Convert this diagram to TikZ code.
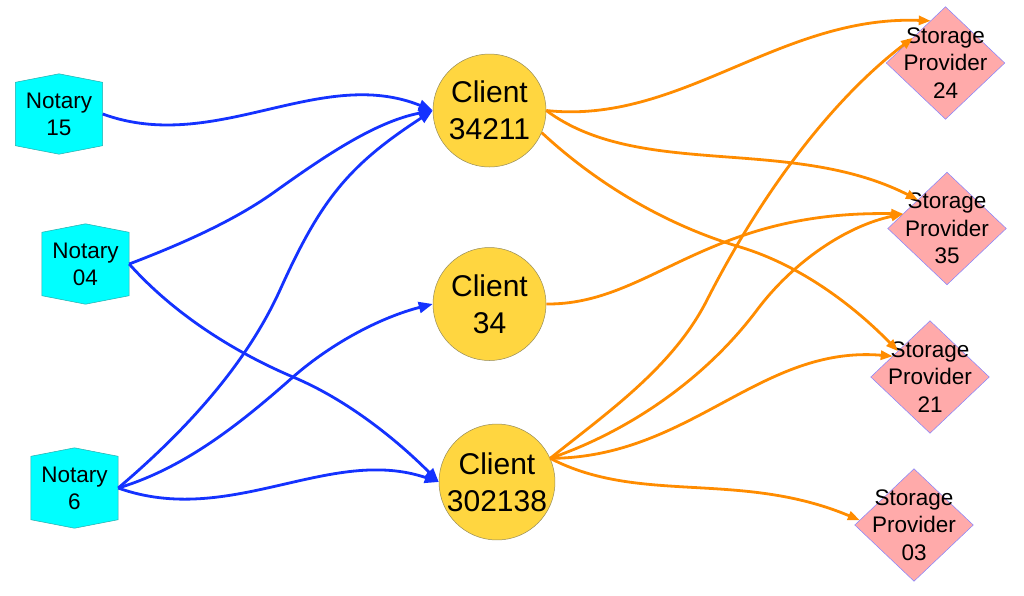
\documentclass[tikz,border=0pt]{standalone}
\usepackage{fontspec}
\setmainfont{Liberation Sans}
\usetikzlibrary{arrows.meta,calc,backgrounds}
\definecolor{edgeblue}{RGB}{20,50,255}
\definecolor{edgeorange}{RGB}{255,140,0}
\definecolor{notaryfill}{RGB}{0,255,255}
\definecolor{notaryline}{RGB}{40,170,170}
\definecolor{clientfill}{RGB}{255,214,64}
\definecolor{clientline}{RGB}{150,140,90}
\definecolor{spfill}{RGB}{255,170,170}
\definecolor{spline}{RGB}{130,130,255}
\tikzset{
  notary/.style={draw=none, inner sep=0pt, minimum width=87pt, minimum height=80pt,
    align=center, font=\fontsize{22.5}{27}\selectfont},
  client/.style={circle, draw=clientline, line width=0.5pt, fill=clientfill, inner sep=0pt,
    minimum size=113pt, align=center, font=\fontsize{30}{37}\selectfont},
  provider/.style={draw=none, inner sep=0pt, minimum width=118pt, minimum height=112pt,
    align=center, font=\fontsize{22.5}{27.5}\selectfont},
  bl/.style={draw=edgeblue, line width=2.8pt, -{Triangle[length=14pt,width=11pt]}},
  orng/.style={draw=edgeorange, line width=2.8pt, -{Triangle[length=12pt,width=9pt]}},
  hexfill/.style={fill=notaryfill, draw=notaryline, line width=0.5pt},
  diafill/.style={fill=spfill, draw=spline, line width=0.5pt}
}
\begin{document}
\begin{tikzpicture}[x=1pt,y=-1pt]
\useasboundingbox (0,0) rectangle (1024,595);
% nodes
\node[notary] (n15) at (59,114) {Notary\\15};
\node[notary] (n04) at (85.5,264) {Notary\\04};
\node[notary] (n6) at (74.5,488) {Notary\\6};
\node[client] (c1) at (489.5,110.5) {Client\\34211};
\node[client] (c2) at (489.5,304) {Client\\34};
\node[client] (c3) at (497,482) {Client\\302138};
\node[provider] (s24) at (945.5,63) {Storage\\Provider\\24};
\node[provider] (s35) at (947,228.5) {Storage\\Provider\\35};
\node[provider] (s21) at (930,377) {Storage\\Provider\\21};
\node[provider] (s03) at (914,525) {Storage\\Provider\\03};
% shapes behind the texts
\begin{scope}[on background layer]
\fill[white] (0,0) rectangle (1024,595);
\foreach \n in {n15,n04,n6}{
  \draw[hexfill] (\n.north) -- ($(\n.north east)+(0,8.5)$) -- ($(\n.south east)+(0,-8.5)$)
    -- (\n.south) -- ($(\n.south west)+(0,-8.5)$) -- ($(\n.north west)+(0,8.5)$) -- cycle;
}
\foreach \n in {s24,s35,s21,s03}{
  \draw[diafill] (\n.north) -- (\n.east) -- (\n.south) -- (\n.west) -- cycle;
}
\end{scope}
% end points on the diamonds
\coordinate (s24a) at ($(s24.north)!0.25!(s24.west)$);
\coordinate (s24b) at ($(s24.north)!0.55!(s24.west)$);
\coordinate (s35a) at ($(s35.north)!0.49!(s35.west)$);
\coordinate (s35b) at ($(s35.north)!0.74!(s35.west)$);
\coordinate (s21a) at ($(s21.north)!0.54!(s21.west)$);
\coordinate (s21b) at ($(s21.north)!0.63!(s21.west)$);
\coordinate (s03a) at ($(s03.north)!0.915!(s03.west)$);
% blue edges
\draw[bl] (n15.east) .. controls (215,155) and (320,65) .. (c1.west);
\draw[bl] (n04.east) .. controls (179,245) and (232,222) .. (273,193)
  .. controls (322,158) and (374,122) .. (c1.west);
\draw[bl] (n6.east) .. controls (183,433) and (245,367) .. (280,290)
  .. controls (321,199) and (349,165) .. (c1.west);
\draw[bl] (n04.east) .. controls (173,313) and (232,351) .. (293,377)
  .. controls (348,400) and (398,441) .. (c3.west);
\draw[bl] (n6.east) .. controls (185,468) and (241,423) .. (293,377)
  .. controls (333,342) and (382,317) .. (c2.west);
\draw[bl] (n6.east) .. controls (230,528) and (330,445) .. (c3.west);
% orange edges
\draw[orng] (c1.east) .. controls (680,125) and (780,15) .. (s24a);
\draw[orng] (c1.east) .. controls (640,180) and (790,135) .. (s35a);
\draw[orng] (c1.-23) .. controls (597,184) and (666,225) .. (740,247)
  .. controls (800,265) and (853,305) .. (s21a);
\draw[orng] (c2.east) .. controls (650,305) and (705,210) .. (s35b);
\draw[orng] (c3.24) .. controls (608,412) and (673,367) .. (707,300)
  .. controls (757,202) and (826,104) .. (s24b);
\draw[orng] (c3.24) .. controls (630,431) and (706,378) .. (757,310)
  .. controls (793,262) and (846,226) .. (s35b);
\draw[orng] (c3.24) .. controls (690,458) and (760,345) .. (s21b);
\draw[orng] (c3.24) .. controls (640,505) and (740,470) .. (s03a);
\end{tikzpicture}
\end{document}
